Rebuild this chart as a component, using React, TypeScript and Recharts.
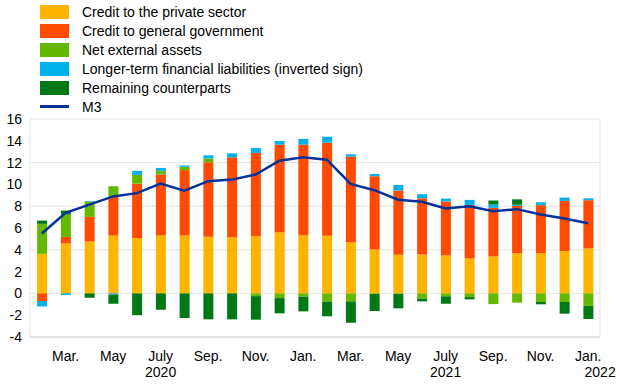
import { ComposedChart, Bar, Line, XAxis, YAxis, CartesianGrid } from 'recharts';

const months = [
    '2020-02', '2020-03', '2020-04', '2020-05', '2020-06', '2020-07', '2020-08', '2020-09',
    '2020-10', '2020-11', '2020-12', '2021-01', '2021-02', '2021-03', '2021-04', '2021-05',
    '2021-06', '2021-07', '2021-08', '2021-09', '2021-10', '2021-11', '2021-12', '2022-01',
];
const monthLabels = [
    '', 'Mar.', '', 'May', '', 'July', '', 'Sep.', '', 'Nov.', '', 'Jan.',
    '', 'Mar.', '', 'May', '', 'July', '', 'Sep.', '', 'Nov.', '', 'Jan.',
];
const yearLabels = [
    '', '', '', '', '', '2020', '', '', '', '', '', '',
    '', '', '', '', '', '2021', '', '', '', '', '', '2022',
];

const privateSector = [3.63, 4.58, 4.76, 5.31, 5.07, 5.31, 5.31, 5.2, 5.16, 5.25, 5.62, 5.34,
    5.28, 4.7, 4.03, 3.54, 3.57, 3.48, 3.2, 3.39, 3.69, 3.69, 3.88, 4.12];
const generalGovernment = [-0.7, 0.6, 2.26, 3.54, 5.0, 5.6, 6.0, 6.83, 7.33, 7.64, 8.03, 8.31,
    8.55, 7.85, 6.72, 5.9, 5.16, 4.95, 4.92, 4.46, 4.34, 4.4, 4.61, 4.43];
const netExternal = [2.75, 2.05, 1.38, 0.98, 0.8, 0.33, 0.3, 0.34, 0, -0.25, -0.43, -0.3,
    -0.76, -0.73, -0.05, -0.05, -0.49, -0.27, -0.34, -0.98, -0.85, -0.79, -0.79, -1.16];
const longerTerm = [-0.5, -0.15, 0.06, -0.1, 0.37, 0.27, 0.12, 0.3, 0.36, 0.45, 0.33, 0.52,
    0.55, 0.21, 0.21, 0.51, 0.37, 0.27, 0.46, 0.3, 0.1, 0.28, 0.3, 0.18];
const remaining = [0.3, 0.37, -0.4, -0.85, -2.0, -1.5, -2.26, -2.38, -2.38, -2.16, -1.4, -1.35,
    -1.34, -1.96, -1.57, -1.32, -0.24, -0.68, -0.21, 0.37, 0.5, -0.21, -1.07, -1.19];
const m3 = [5.5, 7.4, 8.15, 8.9, 9.2, 10.08, 9.43, 10.3, 10.44, 10.9, 12.18, 12.49,
    12.27, 10.05, 9.47, 8.6, 8.4, 7.79, 8.0, 7.54, 7.73, 7.24, 6.87, 6.44];

const yTicks = [-4, -2, 0, 2, 4, 6, 8, 10, 12, 14, 16];

const series = [
    { key: 'private', name: 'Credit to the private sector', color: '#ffb400' },
    { key: 'government', name: 'Credit to general government', color: '#ff4b00' },
    { key: 'nea', name: 'Net external assets', color: '#65b800' },
    { key: 'ltfl', name: 'Longer-term financial liabilities (inverted sign)', color: '#00b1ea' },
    { key: 'remaining', name: 'Remaining counterparts', color: '#007816' },
];

const data = months.map((m, i) => ({
    month: m,
    private: privateSector[i],
    government: generalGovernment[i],
    nea: netExternal[i],
    ltfl: longerTerm[i],
    remaining: remaining[i],
    m3: m3[i],
}));

const FONT = 'Arial, "Liberation Sans", Helvetica, sans-serif';

function MonthTick({ x, y, index }: any) {
    const label = monthLabels[index];
    if (!label) return null;
    const year = yearLabels[index];
    const shift = index === months.length - 1 ? 12 : 0;
    return (
        <g>
            <text x={x} y={y + 16} textAnchor="middle" fontSize={14} fill="#000" fontFamily={FONT}>{label}</text>
            {year && (
                <text x={x + shift} y={y + 32} textAnchor="middle" fontSize={14} fill="#000" fontFamily={FONT}>{year}</text>
            )}
        </g>
    );
}

function LegendBox() {
    return (
        <div style={{ position: 'absolute', left: 40, top: 3, fontFamily: FONT, fontSize: 14, color: '#000' }}>
            {series.map((s) => (
                <div key={s.key} style={{ display: 'flex', alignItems: 'center', height: 18.9 }}>
                    <span style={{ width: 29, height: 14, background: s.color, display: 'inline-block' }} />
                    <span style={{ marginLeft: 13 }}>{s.name}</span>
                </div>
            ))}
            <div style={{ display: 'flex', alignItems: 'center', height: 18.9 }}>
                <span style={{ width: 29, height: 3, background: '#003299', display: 'inline-block' }} />
                <span style={{ marginLeft: 13 }}>M3</span>
            </div>
        </div>
    );
}

export default function App() {
    return (
        <div style={{ position: 'absolute', left: 0, top: 0, width: 620, height: 387, background: '#fff' }}>
            <ComposedChart width={620} height={387} data={data} stackOffset="sign"
                margin={{ top: 119, right: 0, bottom: 0, left: 0 }} barCategoryGap="30%">
                <CartesianGrid vertical={false} stroke="#e3e3e3" />
                <XAxis dataKey="month" interval={0} tickLine={false} height={50}
                    axisLine={{ stroke: '#dcdcdc', strokeWidth: 1.5 }} tick={<MonthTick />} />
                <YAxis domain={[-4, 16]} ticks={yTicks} width={30} tickLine={false}
                    axisLine={{ stroke: '#e3e3e3' }}
                    tick={{ fontSize: 14, fill: '#000', fontFamily: FONT }} />
                <YAxis yAxisId="frame" orientation="right" domain={[-4, 16]} width={20}
                    tick={false} tickLine={false} axisLine={{ stroke: '#e3e3e3' }} />
                {series.map((s) => (
                    <Bar key={s.key} dataKey={s.key} name={s.name} stackId="a" fill={s.color}
                        isAnimationActive={false} />
                ))}
                <Line type="linear" dataKey="m3" name="M3" stroke="#003299" strokeWidth={2.5}
                    dot={false} isAnimationActive={false} />
            </ComposedChart>
            <LegendBox />
        </div>
    );
}
